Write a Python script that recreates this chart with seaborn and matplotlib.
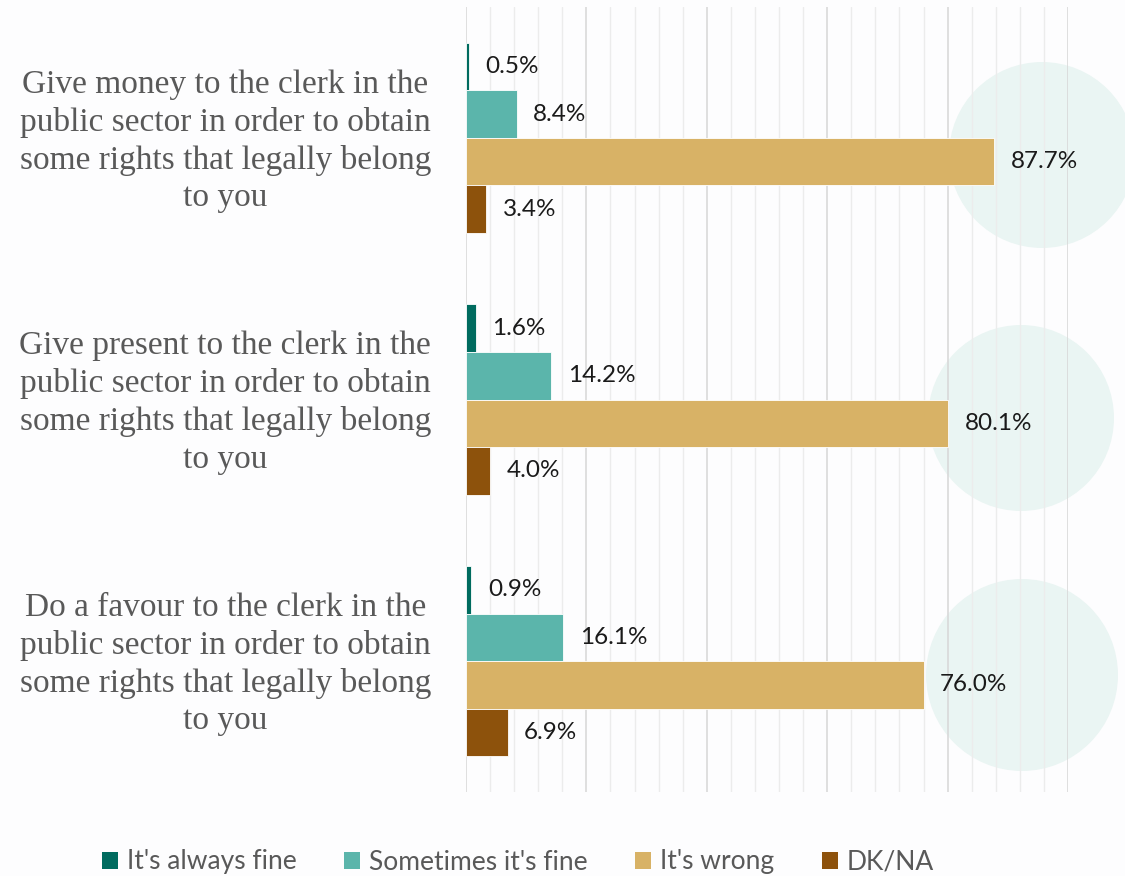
import numpy as np
import pandas as pd
import matplotlib
matplotlib.use("Agg")
import matplotlib.pyplot as plt
from matplotlib.patches import Ellipse
from matplotlib.ticker import MultipleLocator
import seaborn as sns

# Survey results (% of respondents)
statements = [
    "Give money to the clerk in the\npublic sector in order to obtain\nsome rights that legally belong\nto you",
    "Give present to the clerk in the\npublic sector in order to obtain\nsome rights that legally belong\nto you",
    "Do a favour to the clerk in the\npublic sector in order to obtain\nsome rights that legally belong\nto you",
]
answers = ["It's always fine", "Sometimes it's fine", "It's wrong", "DK/NA"]
always_fine = [0.5, 1.6, 0.9]
sometimes_fine = [8.4, 14.2, 16.1]
wrong = [87.7, 80.1, 76.0]
dk_na = [3.4, 4.0, 6.9]

palette = ["#006B5F", "#5BB5AB", "#D8B266", "#8D520C"]

rows = []
for i, s in enumerate(statements):
    for a, vals in zip(answers, [always_fine, sometimes_fine, wrong, dk_na]):
        rows.append({"statement": s, "answer": a, "value": vals[i]})
df = pd.DataFrame(rows)

sns.set_theme(style="white")
plt.rcParams["font.family"] = ["Lato", "DejaVu Sans"]

W, H = 1125, 876
fig = plt.figure(figsize=(W / 100, H / 100), dpi=100)
fig.patch.set_facecolor("#FDFDFE")

# soft decorative discs behind the right end of each group
bg = fig.add_axes([0, 0, 1, 1], zorder=0)
bg.set_xlim(0, W)
bg.set_ylim(H, 0)
bg.axis("off")
for cx, cy, r in [(1042, 155, 93), (1021, 418, 93), (1022, 675, 96)]:
    bg.add_patch(Ellipse((cx, cy), 2 * r, 2 * r, facecolor="#EAF5F3",
                         edgecolor="none"))

ax = fig.add_axes([466 / W, 1 - 792 / H, (1068 - 466) / W, (792 - 7) / H], zorder=1)
ax.set_facecolor("none")

sns.barplot(data=df, y="statement", x="value", hue="answer", orient="h",
            palette=palette, hue_order=answers, order=statements,
            width=0.727, dodge=True, ax=ax, legend=False, saturation=1,
            edgecolor="white", linewidth=0.6)

ax.set_xlim(0, 100)
ax.set_ylim(2.5, -0.5)
ax.xaxis.set_major_locator(MultipleLocator(20))
ax.xaxis.set_minor_locator(MultipleLocator(4))
ax.grid(axis="x", which="major", color="#D9D9D9", linewidth=1.2, zorder=0)
ax.grid(axis="x", which="minor", color="#ECECEC", linewidth=1.0, zorder=0)
ax.set_axisbelow(True)
ax.tick_params(axis="both", which="both", length=0,
               labelbottom=False, labelleft=False)
for sp in ax.spines.values():
    sp.set_visible(False)
ax.set_xlabel("")
ax.set_ylabel("")

# statement labels, centred in the left margin
for i, s in enumerate(statements):
    ax.text(-0.400, i + 0.012, s, transform=ax.get_yaxis_transform(),
            ha="center", va="center", fontfamily="Liberation Serif",
            fontsize=24, color="#595959", linespacing=1.29)

for cont in ax.containers:
    ax.bar_label(cont, labels=[f"{v:.1f}%" for v in cont.datavalues],
                 padding=12, fontsize=17.5, color="#1A1A1A")

handles = [plt.Rectangle((0, 0), 1, 1, facecolor=c, edgecolor="none") for c in palette]
fig.legend(handles, answers, loc="center", bbox_to_anchor=(518 / W, 1 - 862 / H),
           ncol=4, frameon=False, fontsize=19, labelcolor="#595959",
           handlelength=0.6, handleheight=0.6, handletextpad=0.35,
           columnspacing=1.8)

fig.savefig("out.png", dpi=100, facecolor=fig.get_facecolor())
